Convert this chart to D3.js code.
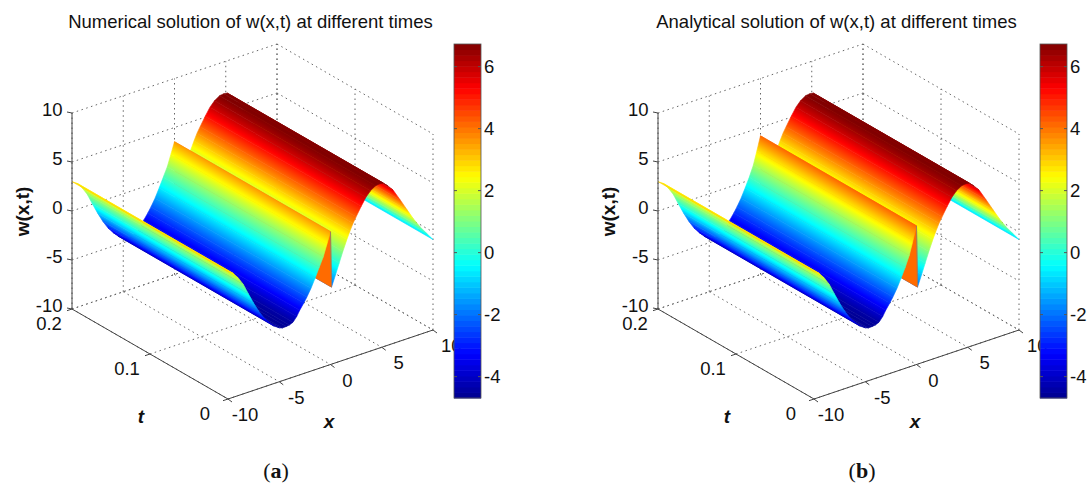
<!DOCTYPE html>
<html><head><meta charset="utf-8">
<script src="https://cdn.jsdelivr.net/npm/d3@7"></script>
<style>html,body{margin:0;padding:0;background:#fff}svg{display:block}</style>
</head><body><svg id="c" width="1088" height="484"></svg>
<script>
// ---- data ----
const xSamples = [-10,-9.5,-9,-8.5,-8,-7.5,-7,-6.5,-6,-5.5,-5,-4.7,-4.3,-4,-3.66,-3.3,-3,-2.6,-2.3,-1.9,-1.5,-1.1,-0.7,-0.35,0,0.1,0.5,0.85,1.2,1.6,1.9,2.2,2.5,3,3.46,3.9,4.4,4.8,5.15,5.6,6.1,6.8,7.5,8.1,8.75,9.4,10];
const numericalW = [3,2.65,2,1.15,0,-1.1,-2.1,-2.95,-3.6,-4.15,-4.5,-4.62,-4.6,-4.55,-4.4,-3.95,-3.4,-2.8,-2.3,-1.55,-0.65,0.3,1.25,2.4,3.55,-2.14,-1,0.06,1.1,2.2,2.95,3.65,4.2,5.1,5.85,6.35,6.7,6.75,6.7,6.25,5.66,4.4,3.1,2,0.95,0.05,-0.77];
const analyticalW = [3,2.65,2,1.15,0,-1.1,-2.1,-2.95,-3.6,-4.15,-4.5,-4.62,-4.6,-4.55,-4.4,-3.95,-3.4,-2.8,-2.3,-1.55,-0.65,0.3,1.4,2.75,4.15,-2.14,-1,0.06,1.1,2.2,2.95,3.65,4.2,5.1,5.85,6.35,6.7,6.75,6.7,6.25,5.66,4.4,3.1,2,0.95,0.05,-0.77];
const xTicks = [-10,-5,0,5,10];
const tTicks = [0,0.1,0.2];
const zTicks = [-10,-5,0,5,10];
const barTicks = [-4,-2,0,2,4,6];
const barRange = [-4.69,6.73];
const dropFaceValue = 4.1;
const jetStops = ["#00008f","#0000ff","#00ffff","#ffff00","#ff0000","#800000"];
const jetPositions = [0,0.125,0.375,0.625,0.875,1];
const titles = ["Numerical solution of w(x,t) at different times","Analytical solution of w(x,t) at different times"];
const captionLetters = ["a","b"];
// ---- layout ----
const FONT = "'Liberation Sans',Arial,sans-serif";
const panelOffsets = [0,586];
const svg = d3.select("#c");
const defs = svg.append("defs");
const jet01 = d3.scaleLinear().domain(jetPositions).range(jetStops).interpolate(d3.interpolateRgb).clamp(true);
const valToUnit = d3.scaleLinear().domain(barRange).range([0,1]).clamp(true);
const jet = v => jet01(valToUnit(v));

const pxX = d3.scaleLinear().domain([-10,10]).range([0,205]);
const pyX = d3.scaleLinear().domain([-10,10]).range([0,-69]);
const pxT = d3.scaleLinear().domain([0.2,0]).range([0,156]);
const pyT = d3.scaleLinear().domain([0.2,0]).range([0,90]);
const pyZ = d3.scaleLinear().domain([-10,10]).range([0,-196]);
const origin = [72,309];

function drawPanel(i, profile){
  const dx = panelOffsets[i];
  const g = svg.append("g").attr("transform",`translate(${dx},0)`);
  const P = (x,t,z)=>[origin[0]+pxX(x)+pxT(t), origin[1]+pyX(x)+pyT(t)+pyZ(z)];
  const seg = (parent,a,b,cls)=>parent.append("line").attr("x1",a[0]).attr("y1",a[1]).attr("x2",b[0]).attr("y2",b[1]).attr("class",cls);
  const grid = g.append("g").attr("fill","none").attr("stroke","#666").attr("stroke-width",1).attr("stroke-dasharray","1.5 3.5");
  const T0=0,T1=0.2,Xa=-10,Xb=10,Za=-10,Zb=10;
  zTicks.forEach(z=>{ seg(grid,P(Xa,T1,z),P(Xb,T1,z)); seg(grid,P(Xb,T1,z),P(Xb,T0,z)); });
  xTicks.forEach(x=>{ seg(grid,P(x,T1,Za),P(x,T1,Zb)); seg(grid,P(x,T1,Za),P(x,T0,Za)); });
  tTicks.forEach(t=>{ seg(grid,P(Xb,t,Za),P(Xb,t,Zb)); seg(grid,P(Xa,t,Za),P(Xb,t,Za)); });

  // surface: strips from far (x=10) to near (x=-10)
  const surf = g.append("g");
  const tv = P(0,T0,0), tu = P(0,T1,0);
  let nx = -(tv[1]-tu[1]), ny = tv[0]-tu[0]; const L=Math.hypot(nx,ny); nx/=L; ny/=L;
  for(let k=xSamples.length-2;k>=0;k--){
    const za=profile[k], zb=profile[k+1];
    const a0=P(xSamples[k],T0,za), b0=P(xSamples[k+1],T0,zb), a1=P(xSamples[k],T1,za), b1=P(xSamples[k+1],T1,zb);
    const poly=[a0,b0,b1,a1].map(p=>p.join(",")).join(" ");
    const d=(b0[0]-a0[0])*nx+(b0[1]-a0[1])*ny;
    let fill;
    if(Math.abs(za-zb)>3){ fill=jet(dropFaceValue); }
    else {
      const id=`g${i}_${k}`;
      const lg=defs.append("linearGradient").attr("id",id).attr("gradientUnits","userSpaceOnUse")
        .attr("x1",a0[0]).attr("y1",a0[1]).attr("x2",a0[0]+nx*d).attr("y2",a0[1]+ny*d);
      d3.range(0,1.0001,0.125).forEach(f=>lg.append("stop").attr("offset",f).attr("stop-color",jet(za+(zb-za)*f)));
      fill=`url(#${id})`;
    }
    surf.append("polygon").attr("points",poly).attr("fill",fill).attr("stroke",fill).attr("stroke-width",0.6).attr("stroke-linejoin","round");
  }
  // dark seam of the sharp drop at the near edge
  const dropIdx = d3.range(profile.length-1).find(k=>Math.abs(profile[k]-profile[k+1])>3);
  seg(g,P(xSamples[dropIdx],T0,profile[dropIdx]),P(xSamples[dropIdx+1],T0,profile[dropIdx+1]))
    .attr("stroke","#8a7a70").attr("stroke-width",0.8);

  // axes
  const ax = g.append("g").attr("stroke","#444").attr("stroke-width",1).attr("fill","none");
  seg(ax,P(Xa,T1,Za),P(Xa,T1,Zb));
  seg(ax,P(Xa,T1,Za),P(Xa,T0,Za));
  seg(ax,P(Xa,T0,Za),P(Xb,T0,Za));
  zTicks.forEach(z=>{const p=P(Xa,T1,z); seg(ax,p,[p[0]-5,p[1]-1]);});
  tTicks.forEach(t=>{const p=P(Xa,t,Za); seg(ax,p,[p[0]-5,p[1]+1.7]);});
  xTicks.forEach(x=>{const p=P(x,T0,Za); seg(ax,p,[p[0]+4,p[1]+3]);});

  const SZ=18.5;
  const txt=(x,y,s,anchor="middle",size=SZ,extra={})=>{
    const e=g.append("text").attr("x",x).attr("y",y).attr("text-anchor",anchor).attr("font-family",FONT).attr("font-size",size).attr("fill","#111").attr("dominant-baseline","central").text(s);
    Object.entries(extra).forEach(([k,v])=>e.attr(k,v)); return e;};
  zTicks.forEach(z=>{const p=P(Xa,T1,z); txt(p[0]-9.5,p[1]-3.5,z,"end");});
  tTicks.forEach(t=>{const p=P(Xa,t,Za); txt(p[0]-23,p[1]+14,t===0?"0":t,"middle");});
  xTicks.forEach(x=>{const p=P(x,T0,Za);
    txt(p[0]+(x===10?8:17), p[1]+15.5, x, x===10?"start":"middle");});
  txt(22,211.5,"w(x,t)","middle",19,{"font-weight":"bold","transform":"rotate(-90 22 211.5)"});
  txt(141,416,"t","middle",19,{"font-weight":"bold","font-style":"italic"});
  txt(329,421,"x","middle",19,{"font-weight":"bold","font-style":"italic"});
  txt(250.5,21,titles[i],"middle",18.5);

  // colour bar (drawn after the labels so it covers the clipped "10")
  const barY = d3.scaleLinear().domain(barRange).range([398,44]);
  const bar = g.append("g");
  const levels = d3.range(64);
  const lvl = d3.scaleLinear().domain([0,64]).range(barRange);
  bar.selectAll("rect").data(levels).join("rect")
    .attr("x",454).attr("width",27)
    .attr("y",d=>barY(lvl(d+1))).attr("height",d=>barY(lvl(d))-barY(lvl(d+1))+0.5)
    .attr("fill",d=>jet(lvl(d+0.5)));
  bar.append("rect").attr("x",454).attr("y",barY(barRange[1])).attr("width",27).attr("height",barY(barRange[0])-barY(barRange[1]))
    .attr("fill","none").attr("stroke","#555").attr("stroke-width",0.8);
  barTicks.forEach(v=>{
    const y=barY(v);
    seg(bar,[454,y],[457,y]).attr("stroke","#555");
    seg(bar,[478,y],[481,y]).attr("stroke","#555");
    txt(484,y,v,"start");
  });
  // caption
  const cap=g.append("text").attr("x",276).attr("y",470).attr("text-anchor","middle").attr("dominant-baseline","central")
    .attr("font-family","'Liberation Serif',serif").attr("font-size",22).attr("fill","#111");
  cap.append("tspan").text("(");
  cap.append("tspan").attr("font-weight","bold").text(captionLetters[i]);
  cap.append("tspan").text(")");
}
drawPanel(0,numericalW);
drawPanel(1,analyticalW);
</script></body></html>
